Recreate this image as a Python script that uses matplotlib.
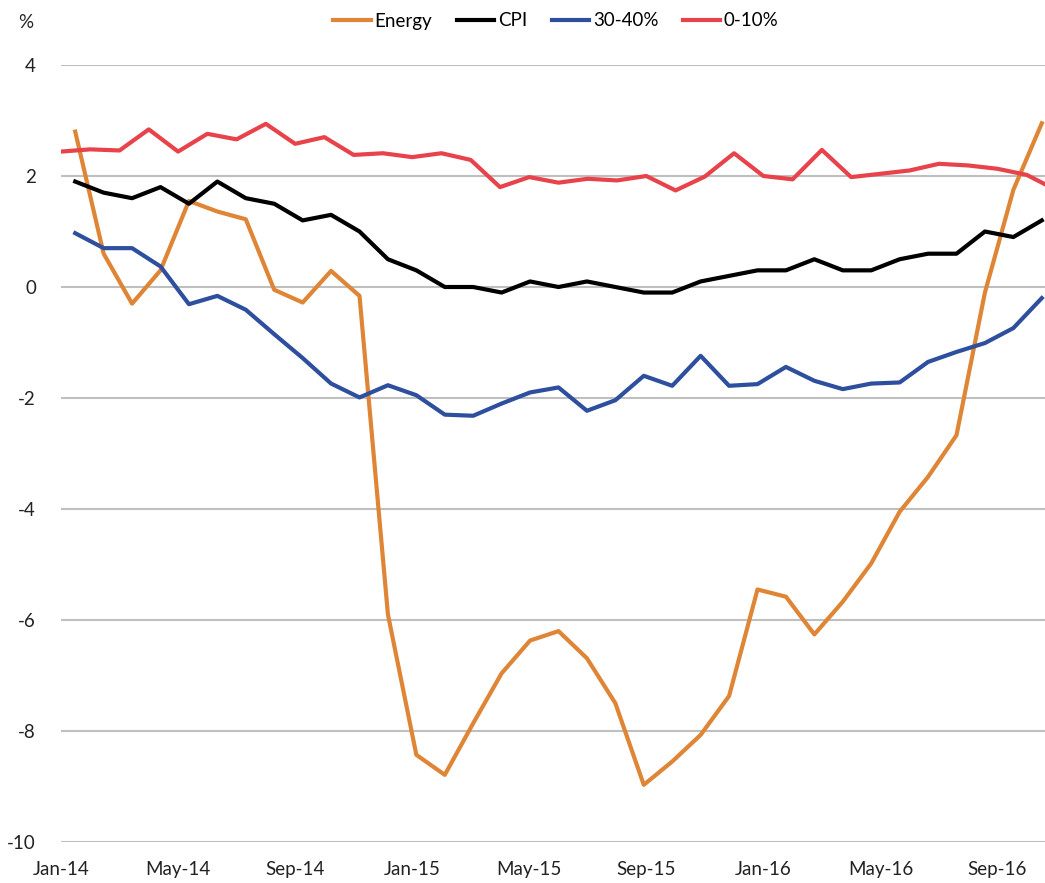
import numpy as np
import matplotlib.pyplot as plt

plt.rcParams['font.family'] = ['Lato', 'DejaVu Sans']
plt.rcParams['axes.unicode_minus'] = False

tick_labels = ['Jan-14', 'May-14', 'Sep-14', 'Jan-15', 'May-15', 'Sep-15',
               'Jan-16', 'May-16', 'Sep-16']

energy = [2.80, 0.60, -0.30, 0.30, 1.55, 1.36, 1.22, -0.05, -0.28, 0.29, -0.16,
          -5.90, -8.43, -8.79, -7.86, -6.96, -6.37, -6.20, -6.69, -7.50, -8.97,
          -8.55, -8.07, -7.37, -5.45, -5.58, -6.26, -5.67, -4.98, -4.05, -3.42,
          -2.67, -0.10, 1.75, 2.95]
cpi = [1.9, 1.7, 1.6, 1.8, 1.5, 1.9, 1.6, 1.5, 1.2, 1.3, 1.0, 0.5, 0.3, 0.0,
       0.0, -0.1, 0.1, 0.0, 0.1, 0.0, -0.1, -0.1, 0.1, 0.2, 0.3, 0.3, 0.5, 0.3,
       0.3, 0.5, 0.6, 0.6, 1.0, 0.9, 1.2]
dec_30_40 = [0.97, 0.70, 0.70, 0.37, -0.31, -0.16, -0.41, -0.85, -1.28, -1.74,
             -1.99, -1.77, -1.95, -2.30, -2.32, -2.10, -1.90, -1.81, -2.23,
             -2.04, -1.60, -1.78, -1.24, -1.78, -1.75, -1.44, -1.69, -1.84,
             -1.74, -1.72, -1.35, -1.17, -1.01, -0.74, -0.20]
dec_0_10 = [2.44, 2.48, 2.46, 2.84, 2.44, 2.76, 2.66, 2.94, 2.58, 2.70, 2.38,
            2.41, 2.34, 2.41, 2.29, 1.80, 1.98, 1.88, 1.95, 1.92, 2.00, 1.74,
            1.99, 2.41, 2.00, 1.94, 2.47, 1.98, 2.04, 2.10, 2.22, 2.19, 2.13,
            2.02, 1.75]

n = len(cpi)
# main series sit between tick marks, the 0-10% series sits on them
x_main = (np.arange(n) + 0.5) * (n - 1) / n
x_red = np.arange(n)

W, H = 1045, 883
fig = plt.figure(figsize=(W / 100, H / 100), dpi=100)
ax = fig.add_axes([61 / W, (H - 842) / H, (1056 - 61) / W, (842 - 65) / H])

ax.plot(x_main, energy, color='#DF8536', lw=3, label='Energy')
ax.plot(x_main, cpi, color='black', lw=3, label='CPI')
ax.plot(x_main, dec_30_40, color='#2E4E9E', lw=3, label='30-40%')
ax.plot(x_red, dec_0_10, color='#E8424B', lw=3, label='0-10%')

ax.set_xlim(0, n - 1)
ax.set_ylim(-10, 4)
ax.set_yticks(np.arange(-10, 5, 2))
ax.set_xticks(np.arange(0, 33, 4))
ax.set_xticklabels(tick_labels)
ax.grid(axis='y', color='#BFBFBF', lw=1.5)
ax.set_axisbelow(True)
for s in ax.spines.values():
    s.set_visible(False)
ax.tick_params(length=0, labelsize=13.5, colors='#222222')
ax.tick_params(axis='y', pad=18)
ax.tick_params(axis='x', pad=14)

fig.text(18 / W, 1 - 22 / H, '%', fontsize=13.5, color='#222222',
         va='center', ha='left')
ax.legend(loc='center', bbox_to_anchor=(556 / W, 1 - 21 / H),
          bbox_transform=fig.transFigure, ncol=4, frameon=False, fontsize=13.5,
          handlelength=2.0, handletextpad=0.2, columnspacing=1.3)

fig.savefig('out.png', dpi=100)
